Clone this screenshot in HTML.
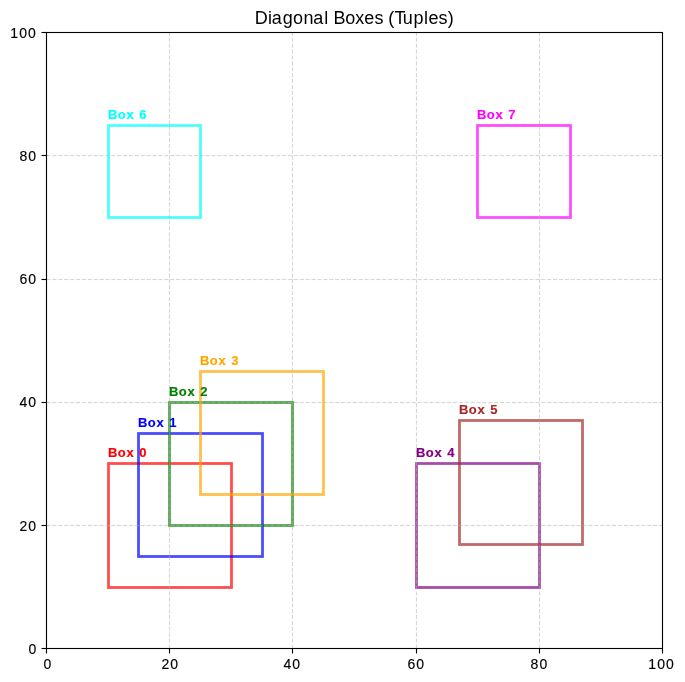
<!DOCTYPE html>
<html lang="en">
<head>
<meta charset="utf-8">
<title>Diagonal Boxes (Tuples)</title>
<style>
html,body{margin:0;padding:0;background:#ffffff;}
body{width:685px;height:682px;overflow:hidden;font-family:"Liberation Sans",sans-serif;}
svg{display:block;}
text{font-family:"Liberation Sans",sans-serif;}
.txt{will-change:opacity;}
.tick{mix-blend-mode:multiply;font-size:14.0px;fill:#000000;letter-spacing:1.05px;stroke:#000000;stroke-width:0.15px;}
.title{mix-blend-mode:multiply;font-size:18.0px;fill:#000000;}
.lab{font-size:12.5px;font-weight:bold;stroke-width:0.15px;}
.grid line{stroke:#b0b0b0;stroke-opacity:0.5;stroke-width:1.11;stroke-dasharray:4.11 1.78;}
.grid line.bleed{stroke-opacity:0.039;stroke-width:1;}
.ticks line,.frame{stroke:#000000;stroke-width:1.11;}
.boxes rect{fill:none;stroke-width:2.78;stroke-opacity:0.7;stroke-linejoin:miter;}
</style>
</head>
<body>
<svg width="685" height="682" viewBox="0 0 685 682">
<rect x="0" y="0" width="685" height="682" fill="#ffffff"/>

<g class="boxes">
<rect x="108.5" y="463.5" width="123" height="124" stroke="#ff0000"/>
<rect x="138.5" y="433.5" width="124" height="123" stroke="#0000ff"/>
<rect x="169.5" y="402.5" width="123" height="123" stroke="#008000"/>
<rect x="200.5" y="371.5" width="123" height="123" stroke="#ffa500"/>
<rect x="416.5" y="463.5" width="123" height="124" stroke="#800080"/>
<rect x="459.5" y="420.5" width="123" height="124" stroke="#a52a2a"/>
<rect x="108.5" y="125.5" width="92" height="92" stroke="#00ffff"/>
<rect x="477.5" y="125.5" width="93" height="92" stroke="#ff00ff"/>
</g>
<g class="grid">
<line x1="169.5" y1="648.5" x2="169.5" y2="32.5"/>
<line x1="292.5" y1="648.5" x2="292.5" y2="32.5"/>
<line x1="416.5" y1="648.5" x2="416.5" y2="32.5"/>
<line x1="539.5" y1="648.5" x2="539.5" y2="32.5"/>
<line x1="46.5" y1="525.5" x2="662.5" y2="525.5"/>
<line class="bleed" x1="46.5" y1="524.5" x2="662.5" y2="524.5"/>
<line class="bleed" x1="46.5" y1="526.5" x2="662.5" y2="526.5"/>
<line x1="46.5" y1="402.5" x2="662.5" y2="402.5"/>
<line class="bleed" x1="46.5" y1="401.5" x2="662.5" y2="401.5"/>
<line class="bleed" x1="46.5" y1="403.5" x2="662.5" y2="403.5"/>
<line x1="46.5" y1="279.5" x2="662.5" y2="279.5"/>
<line class="bleed" x1="46.5" y1="278.5" x2="662.5" y2="278.5"/>
<line class="bleed" x1="46.5" y1="280.5" x2="662.5" y2="280.5"/>
<line x1="46.5" y1="155.5" x2="662.5" y2="155.5"/>
<line class="bleed" x1="46.5" y1="154.5" x2="662.5" y2="154.5"/>
<line class="bleed" x1="46.5" y1="156.5" x2="662.5" y2="156.5"/>
</g>
<g class="ticks">
<line x1="46.5" y1="648.5" x2="46.5" y2="653.5"/>
<line x1="169.5" y1="648.5" x2="169.5" y2="653.5"/>
<line x1="292.5" y1="648.5" x2="292.5" y2="653.5"/>
<line x1="416.5" y1="648.5" x2="416.5" y2="653.5"/>
<line x1="539.5" y1="648.5" x2="539.5" y2="653.5"/>
<line x1="662.5" y1="648.5" x2="662.5" y2="653.5"/>
<line x1="46.5" y1="648.5" x2="41.5" y2="648.5"/>
<line x1="46.5" y1="525.5" x2="41.5" y2="525.5"/>
<line x1="46.5" y1="402.5" x2="41.5" y2="402.5"/>
<line x1="46.5" y1="279.5" x2="41.5" y2="279.5"/>
<line x1="46.5" y1="155.5" x2="41.5" y2="155.5"/>
<line x1="46.5" y1="32.5" x2="41.5" y2="32.5"/>
</g>
<rect class="frame" x="46.5" y="32.5" width="616" height="616" fill="none"/>
<g class="txt">
<g class="tick">
<text x="43.43" y="669">0</text>
<text x="161.54" y="669">20</text>
<text x="283.49" y="669">40</text>
<text x="407.46" y="669">60</text>
<text x="530.57" y="669">80</text>
<text x="648.37" y="669">100</text>
<text x="28.38" y="654">0</text>
<text x="19.48" y="531">20</text>
<text x="19.47" y="407">40</text>
<text x="19.46" y="284">60</text>
<text x="19.40" y="161">80</text>
<text x="10.36" y="38">100</text>
</g>
<text class="title" y="24" x="254.77 267.96 271.71 282.63 293.09 303.47 313.16 324.20 328.51 333.47 345.29 355.26 364.36 374.40 383.10 388.18 394.46 402.76 413.44 423.93 428.39 438.42 447.83">Diagonal Boxes (Tuples)</text>
<g class="lab">
<text transform="scale(1.04,1)" x="103.91 113.32 121.67 129.02 133.92" y="457" fill="#ff0000" stroke="#ff0000">Box 0</text>
<text transform="scale(1.04,1)" x="132.75 142.16 150.51 157.86 162.80" y="427" fill="#0000ff" stroke="#0000ff">Box 1</text>
<text transform="scale(1.04,1)" x="162.56 171.97 180.32 187.67 192.55" y="396" fill="#008000" stroke="#008000">Box 2</text>
<text transform="scale(1.04,1)" x="192.37 201.78 210.13 217.48 222.37" y="365" fill="#ffa500" stroke="#ffa500">Box 3</text>
<text transform="scale(1.04,1)" x="400.06 409.47 417.82 425.17 429.99" y="457" fill="#800080" stroke="#800080">Box 4</text>
<text transform="scale(1.04,1)" x="441.41 450.82 459.17 466.52 471.43" y="414" fill="#a52a2a" stroke="#a52a2a">Box 5</text>
<text transform="scale(1.04,1)" x="103.91 113.32 121.67 129.02 133.95" y="119" fill="#00ffff" stroke="#00ffff">Box 6</text>
<text transform="scale(1.04,1)" x="458.72 468.13 476.48 483.82 488.64" y="119" fill="#ff00ff" stroke="#ff00ff">Box 7</text>
</g>
</g>
</svg>
</body>
</html>
